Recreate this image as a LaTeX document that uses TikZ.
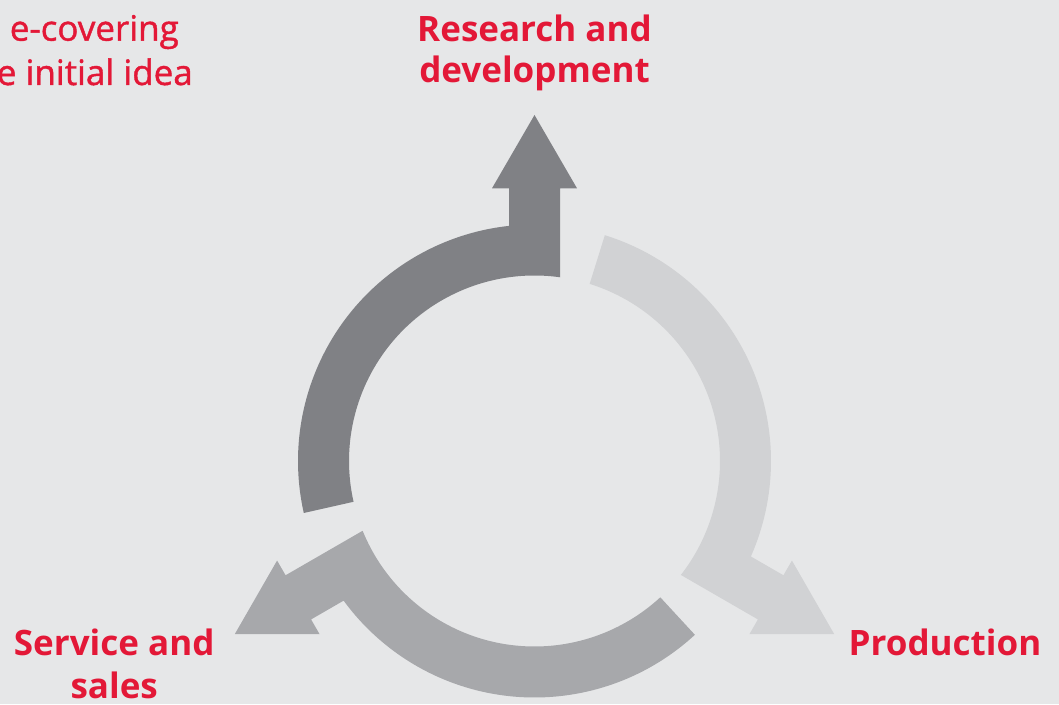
\documentclass[tikz,border=0pt]{standalone}
\usepackage{fontspec}
\setmainfont{Open Sans}
\newfontfamily\medfont[FakeBold=1.2]{Open Sans}
\definecolor{bgc}{RGB}{230,231,232}
\definecolor{darkg}{RGB}{128,129,133}
\definecolor{midg}{RGB}{167,168,171}
\definecolor{lightg}{RGB}{209,210,212}
\definecolor{redt}{RGB}{227,24,55}
\tikzset{
  lbl/.style={text=redt, font=\bfseries\fontsize{35}{42}\selectfont, inner sep=0pt, anchor=base},
  lblr/.style={text=redt, font=\medfont\fontsize{35}{42}\selectfont, inner sep=0pt, anchor=base east},
  pics/cycarrow/.style={code={
    \fill[#1] (192.7:236.5) arc[start angle=192.7, end angle=96.19, radius=236.5]
      -- (-25.5,272.7) -- (-42.5,272.7) -- (0,346) -- (42.5,272.7) -- (25.5,272.7)
      -- (82.1:185.5) arc[start angle=82.1, end angle=192.7, radius=185.5] -- cycle;
  }}
}
\begin{document}
\begin{tikzpicture}[x=1pt,y=1pt]
\fill[bgc] (0,0) rectangle (1059,704);
\useasboundingbox (0,0) rectangle (1059,704);
\coordinate (c) at (534.5,243);
\pic[shift={(c)}, rotate=0] (rd) {cycarrow=darkg};
\pic[shift={(c)}, rotate=-120] (pr) {cycarrow=lightg};
\pic[shift={(c)}, rotate=-240] (ss) {cycarrow=midg};
\node[lbl] (rd1) at (534.5,662.3) {Research and};
\node[lbl] (rd2) at (534.5,621) {development};
\node[lbl] (pr1) at (945,49) {Production};
\node[lbl] (ss1) at (114.2,49) {Service and};
\node[lbl] (ss2) at (114.2,6) {sales};
\node[lblr] (id1) at (179,663.3) {e-covering};
\node[lblr] (id2) at (193,619) {e initial idea};
\end{tikzpicture}
\end{document}
